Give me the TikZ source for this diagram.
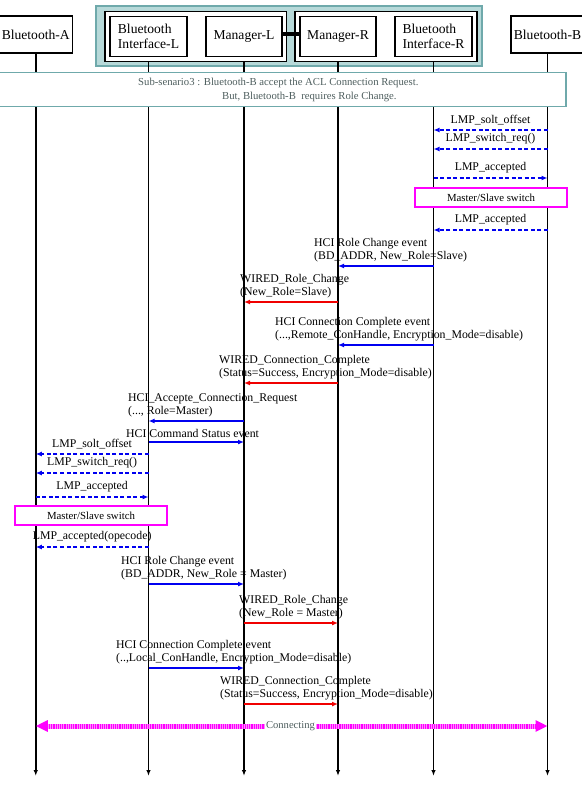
\documentclass[tikz,border=0pt]{standalone}
\usepackage{fontspec}
\setmainfont{Liberation Serif}
\usetikzlibrary{arrows.meta}
\definecolor{tealbd}{HTML}{6FA9AB}
\definecolor{tealfill}{HTML}{B7D9D9}
\definecolor{subtxt}{HTML}{4F5F5F}
\definecolor{msgblue}{HTML}{0000F0}
\definecolor{msgred}{HTML}{F00000}
\definecolor{mag}{HTML}{FF00FF}
\begin{document}
\begin{tikzpicture}[x=1bp,y=-1bp,
  hdr/.style={draw, line width=1.3bp, fill=white, inner sep=0, font=\fontsize{13.6bp}{15bp}\selectfont, align=left},
  grp/.style={draw, line width=1.8bp, fill=white, inner sep=0},
  life/.style={line width=1.6bp, -{Latex[length=6bp,width=4.5bp]}},
  msg/.style={line width=1.6bp, -{Latex[length=6bp,width=5bp]}},
  bluemsg/.style={msg, color=msgblue},
  redmsg/.style={msg, color=msgred},
  lmp/.style={msg, color=msgblue, dash pattern=on 4bp off 2.5bp},
  lbl/.style={inner sep=0, font=\fontsize{11.8bp}{13bp}\selectfont, align=left, text=black},
  subt/.style={inner sep=0, font=\fontsize{10.7bp}{12bp}\selectfont, text=subtxt},
  switchbox/.style={draw=mag, line width=1.5bp, fill=white, inner sep=0, minimum width=152bp, minimum height=19bp, font=\fontsize{10.8bp}{12bp}\selectfont}
]
\useasboundingbox (0,0) rectangle (582,793);

% header
\node[draw=tealbd, fill=tealfill, line width=2bp, minimum width=385.5bp, minimum height=59.5bp, inner sep=0] (teal) at (289.25,35.75) {};
\node[grp, minimum width=181.5bp, minimum height=50bp] (gL) at (195.75,36.5) {};
\node[grp, minimum width=182bp, minimum height=50bp] (gR) at (386,36.5) {};
\node[hdr, minimum width=73.5bp, minimum height=37bp, align=center] (hA) at (35.75,34.5) {Bluetooth-A};
\node[hdr, minimum width=73bp, minimum height=37bp, align=center] (hB) at (547.5,34.5) {Bluetooth-B};
\node[hdr, minimum width=77bp, minimum height=40bp] (hBIL) at (148.5,36.5) {Bluetooth\\Interface-L};
\node[hdr, minimum width=76bp, minimum height=40bp] (hML) at (244,36.5) {Manager-L};
\node[hdr, minimum width=76bp, minimum height=40bp] (hMR) at (338,36.5) {Manager-R};
\node[hdr, minimum width=77bp, minimum height=40bp] (hBIR) at (433.5,36.5) {Bluetooth\\Interface-R};
\draw[line width=4bp] ([yshift=2.5bp]hML.east) -- ([yshift=2.5bp]hMR.west);

% lifelines
\coordinate (bot) at (0,776);
\draw[life] (hA.south) -- (hA |- bot);
\draw[life] (hBIL |- gL.south) -- (hBIL |- bot);
\draw[life] (hML |- gL.south) -- (hML |- bot);
\draw[life] (hMR |- gR.south) -- (hMR |- bot);
\draw[life] (hBIR |- gR.south) -- (hBIR |- bot);
\draw[life] (hB.south) -- (hB |- bot);

% sub-scenario
\node[draw=tealbd, line width=1.5bp, fill=white, minimum width=567bp, minimum height=34bp, inner sep=0] (sub) at (282.5,89.5) {};
\node[subt, anchor=west] (sub1) at (138,83) {Sub-senario3 : Bluetooth-B accept the ACL Connection Request.};
\node[subt, anchor=west] (sub2) at (222,96.5) {But, Bluetooth-B\ \ requires Role Change.};

% right side LMP
\draw[lmp] (hB |- 0,130) -- (hBIR |- 0,130) node[lbl, midway, anchor=south, yshift=4bp] (t1) {LMP\_solt\_offset};
\draw[lmp] (hB |- 0,149) -- (hBIR |- 0,149) node[lbl, midway, anchor=south, yshift=4bp] (t2) {LMP\_switch\_req()};
\draw[lmp] (hBIR |- 0,178) -- (hB |- 0,178) node[lbl, midway, anchor=south, yshift=4bp] (t3) {LMP\_accepted};
\node[switchbox] (sw1) at (491,197.5) {Master/Slave switch};
\draw[lmp] (hB |- 0,230) -- (hBIR |- 0,230) node[lbl, midway, anchor=south, yshift=4bp] (t4) {LMP\_accepted};

% HCI / WIRED
\draw[bluemsg] (hBIR |- 0,266) -- (hMR |- 0,266);
\node[lbl, anchor=south west] (t6) at (314,262) {HCI Role Change event\\(BD\_ADDR, New\_Role=Slave)};
\draw[redmsg] (hMR |- 0,302) -- (hML |- 0,302);
\node[lbl, anchor=south west] (t7) at (240,298) {WIRED\_Role\_Change\\(New\_Role=Slave)};
\draw[bluemsg] (hBIR |- 0,345) -- (hMR |- 0,345);
\node[lbl, anchor=south west] (t8) at (275,341) {HCI Connection Complete event\\(...,Remote\_ConHandle, Encryption\_Mode=disable)};
\draw[redmsg] (hMR |- 0,383) -- (hML |- 0,383);
\node[lbl, anchor=south west] (t9) at (219,379) {WIRED\_Connection\_Complete\\(Status=Success, Encryption\_Mode=disable)};
\draw[bluemsg] (hML |- 0,421) -- (hBIL |- 0,421);
\node[lbl, anchor=south west] (t10) at (128,417) {HCI\_Accepte\_Connection\_Request\\(..., Role=Master)};
\draw[bluemsg] (hBIL |- 0,442) -- (hML |- 0,442);
\node[lbl, anchor=south west] (t11) at (126,438) {HCI Command Status event};

% left side LMP
\draw[lmp] (hBIL |- 0,454) -- (hA |- 0,454) node[lbl, midway, anchor=south, yshift=4bp] (t12) {LMP\_solt\_offset};
\draw[lmp] (hBIL |- 0,473) -- (hA |- 0,473) node[lbl, midway, anchor=south, yshift=4bp] (t13) {LMP\_switch\_req()};
\draw[lmp] (hA |- 0,497) -- (hBIL |- 0,497) node[lbl, midway, anchor=south, yshift=4bp] (t14) {LMP\_accepted};
\node[switchbox] (sw2) at (91,515.5) {Master/Slave switch};
\draw[lmp] (hBIL |- 0,547) -- (hA |- 0,547) node[lbl, midway, anchor=south, yshift=4bp] (t16) {LMP\_accepted(opecode)};

\draw[bluemsg] (hBIL |- 0,584) -- (hML |- 0,584);
\node[lbl, anchor=south west] (t17) at (121,580) {HCI Role Change event\\(BD\_ADDR, New\_Role = Master)};
\draw[redmsg] (hML |- 0,623) -- (hMR |- 0,623);
\node[lbl, anchor=south west] (t18) at (239,619) {WIRED\_Role\_Change\\(New\_Role = Master)};
\draw[bluemsg] (hBIL |- 0,668) -- (hML |- 0,668);
\node[lbl, anchor=south west] (t19) at (116,664) {HCI Connection Complete event\\(..,Local\_ConHandle, Encryption\_Mode=disable)};
\draw[redmsg] (hML |- 0,704) -- (hMR |- 0,704);
\node[lbl, anchor=south west] (t20) at (220,700) {WIRED\_Connection\_Complete\\(Status=Success, Encryption\_Mode=disable)};

% connecting
\draw[line width=5bp, mag!45, {Triangle[length=12bp,width=11bp,color=mag]}-{Triangle[length=12bp,width=11bp,color=mag]}] (hA |- 0,726) -- (hB |- 0,726);
\draw[line width=5bp, mag, dash pattern=on 1.2bp off 1bp, shorten <=11bp, shorten >=11bp] (hA |- 0,726) -- (hB |- 0,726);
\node[fill=white, inner sep=0.6bp, text=subtxt, font=\fontsize{10.6bp}{12bp}\selectfont] (conn) at (290.5,726) {Connecting};
\end{tikzpicture}
\end{document}
